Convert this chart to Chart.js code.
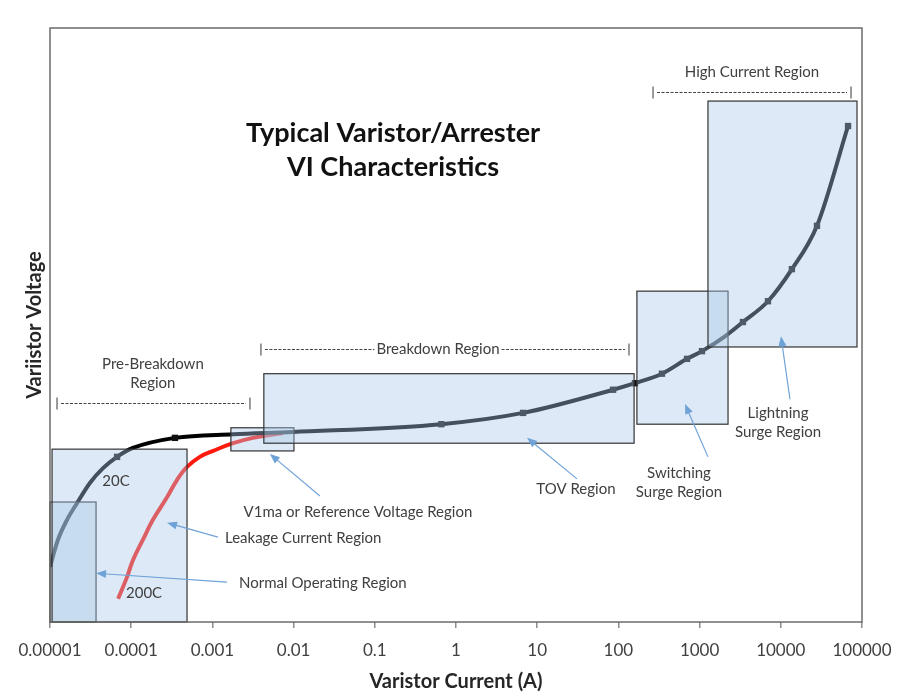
<!DOCTYPE html>
<html>
<head>
<meta charset="utf-8">
<script src="https://cdn.jsdelivr.net/npm/chart.js@4.4.1/dist/chart.umd.min.js"></script>
<style>
  html, body { margin: 0; padding: 0; background: #fff; }
  #wrap { width: 900px; height: 699px; }
</style>
</head>
<body>
<div id="wrap"><canvas id="myChart" width="900" height="699"></canvas></div>
<script>
// x axis: varistor current (A), log scale, one tick per decade
var tickValues = [1e-5, 1e-4, 1e-3, 1e-2, 1e-1, 1, 10, 100, 1000, 10000, 100000];
var tickLabels = ['0.00001', '0.0001', '0.001', '0.01', '0.1', '1', '10', '100', '1000', '10000', '100000'];

// 20C curve (relative voltage, 0..100 of plot height)
var curve20I = [1e-5, 1.25e-5, 1.62e-5, 2.15e-5, 3.1e-5, 4.5e-5, 6.7e-5, 1.05e-4, 3.46e-4, 1.8e-3, 9.8e-3,
                0.66, 6.7, 86, 160, 344, 700, 1070, 2055, 3420, 6950, 13700, 27900, 67300];
var curve20V = [9.3, 13.8, 17.2, 20.0, 23.4, 25.9, 27.8, 29.3, 31.0, 31.6, 32.0,
                33.3, 35.2, 39.1, 40.2, 41.8, 44.3, 45.6, 48.1, 50.5, 54.0, 59.4, 66.7, 83.5];
var marked20 = [0, 0, 0, 0, 0, 0, 1, 0, 1, 0, 0,
                1, 1, 1, 1, 1, 1, 1, 0, 1, 1, 1, 1, 1];

// 200C curve
var curve200I = [6.9e-5, 8.9e-5, 1.05e-4, 1.4e-4, 1.85e-4, 2.76e-4, 3.66e-4, 4.87e-4, 7.0e-4, 1.02e-3, 1.8e-3, 3.16e-3, 7.4e-3];
var curve200V = [3.9, 7.6, 10.4, 13.9, 17.2, 21.0, 23.9, 26.1, 27.8, 28.8, 30.1, 31.0, 31.8];

// operating regions (boxes)
var regionNames = ['Normal Operating', 'Leakage Current', 'V1ma', 'TOV', 'Switching Surge', 'Lightning Surge'];
var regionIFrom = [1e-5, 1.06e-5, 1.69e-3, 4.3e-3, 169, 1268];
var regionITo   = [3.69e-5, 4.87e-4, 0.0101, 156, 2240, 86800];
var regionVFrom = [0, 0, 28.8, 30.1, 33.3, 46.3];
var regionVTo   = [20.2, 29.1, 32.7, 41.8, 55.7, 87.7];

var FONT = 'Lato, "Open Sans", sans-serif';

function pts(xs, ys) {
    return xs.map(function (x, i) { return {x: x, y: ys[i]}; });
}

// annotation layout (in chart units)
var notes = [
    {lines: ['Typical Varistor/Arrester', 'VI Characteristics'], x: 0.168, y: 82.2, bold: true, size: 27, gap: 34, color: '#111'},
    {lines: ['High Current Region'], x: 4415, y: 92.6},
    {lines: ['Pre-Breakdown', 'Region'], x: 1.85e-4, y: 43.4},
    {lines: ['20C'], x: 6.5e-5, y: 23.7},
    {lines: ['200C'], x: 1.44e-4, y: 4.9},
    {lines: ['Leakage Current Region'], x: 1.43e-3, y: 14.1, align: 'left'},
    {lines: ['Normal Operating Region'], x: 2.13e-3, y: 6.6, align: 'left'},
    {lines: ['V1ma or Reference Voltage Region'], x: 0.062, y: 18.5},
    {lines: ['TOV Region'], x: 30, y: 22.4},
    {lines: ['Switching', 'Surge Region'], x: 557, y: 25.1},
    {lines: ['Lightning', 'Surge Region'], x: 9250, y: 35.2}
];
var arrows = [
    [1.17e-3, 14.3, 2.76e-4, 16.7],
    [1.51e-3, 6.7, 3.69e-5, 8.2],
    [0.0211, 21.2, 5.1e-3, 28.3],
    [30.9, 24.1, 7.5, 31.0],
    [1268, 27.8, 661, 36.7],
    [12970, 37.5, 10050, 48.1]
];
var spans = [
    {from: 1.22e-5, to: 2.9e-3, y: 36.9},
    {from: 3.96e-3, to: 135, y: 46.0, text: 'Breakdown Region', textAt: 0.6},
    {from: 267, to: 73300, y: 89.2}
];

var overlay = {
    id: 'overlay',
    afterDatasetsDraw: function (chart) {
        var ctx = chart.ctx, a = chart.chartArea;
        var xs = chart.scales.x, ys = chart.scales.y;
        var X = function (v) { return xs.getPixelForValue(v); };
        var Y = function (v) { return ys.getPixelForValue(v); };
        ctx.save();

        // translucent region boxes on top of the curves
        for (var i = 0; i < regionNames.length; i++) {
            var x0 = X(regionIFrom[i]), x1 = X(regionITo[i]);
            var y0 = Y(regionVTo[i]), y1 = Y(regionVFrom[i]);
            ctx.fillStyle = 'rgba(170,200,232,0.4)';
            ctx.fillRect(x0, y0, x1 - x0, y1 - y0);
            ctx.strokeStyle = '#333';
            ctx.lineWidth = 1.2;
            ctx.strokeRect(x0, y0, x1 - x0, y1 - y0);
        }

        // plot frame
        ctx.strokeStyle = '#6b6b6b';
        ctx.lineWidth = 1.5;
        ctx.strokeRect(a.left, a.top, a.right - a.left, a.bottom - a.top);

        // dimension lines
        ctx.font = '15px ' + FONT;
        spans.forEach(function (s) {
            var x0 = X(s.from), x1 = X(s.to), y = Math.round(Y(s.y)) + 0.5;
            ctx.strokeStyle = '#7a7a7a';
            ctx.lineWidth = 1.5;
            ctx.setLineDash([]);
            ctx.beginPath();
            ctx.moveTo(x0, y - 6); ctx.lineTo(x0, y + 6);
            ctx.moveTo(x1, y - 6); ctx.lineTo(x1, y + 6);
            ctx.stroke();
            ctx.strokeStyle = '#444';
            ctx.lineWidth = 1;
            ctx.setLineDash([3, 1.5]);
            ctx.beginPath();
            if (s.text) {
                var cx = X(s.textAt), w = ctx.measureText(s.text).width / 2 + 2;
                ctx.moveTo(x0 + 4, y); ctx.lineTo(cx - w, y);
                ctx.moveTo(cx + w, y); ctx.lineTo(x1 - 4, y);
                ctx.stroke();
                ctx.fillStyle = '#404040';
                ctx.textAlign = 'center';
                ctx.textBaseline = 'middle';
                ctx.fillText(s.text, cx, y);
            } else {
                ctx.moveTo(x0 + 4, y); ctx.lineTo(x1 - 4, y);
                ctx.stroke();
            }
        });
        ctx.setLineDash([]);

        // arrows
        ctx.strokeStyle = '#6fa3d8';
        ctx.fillStyle = '#6fa3d8';
        ctx.lineWidth = 1.2;
        arrows.forEach(function (r) {
            var sx = X(r[0]), sy = Y(r[1]), ex = X(r[2]), ey = Y(r[3]);
            var ang = Math.atan2(ey - sy, ex - sx);
            ctx.beginPath();
            ctx.moveTo(sx, sy);
            ctx.lineTo(ex - 7 * Math.cos(ang), ey - 7 * Math.sin(ang));
            ctx.stroke();
            ctx.beginPath();
            ctx.moveTo(ex, ey);
            ctx.lineTo(ex - 10 * Math.cos(ang) + 4 * Math.sin(ang), ey - 10 * Math.sin(ang) - 4 * Math.cos(ang));
            ctx.lineTo(ex - 10 * Math.cos(ang) - 4 * Math.sin(ang), ey - 10 * Math.sin(ang) + 4 * Math.cos(ang));
            ctx.closePath();
            ctx.fill();
        });

        // texts
        notes.forEach(function (n) {
            ctx.font = (n.bold ? 'bold ' : '') + (n.size || 15) + 'px ' + FONT;
            ctx.fillStyle = n.color || '#404040';
            ctx.textAlign = n.align || 'center';
            ctx.textBaseline = 'middle';
            n.lines.forEach(function (t, k) {
                ctx.fillText(t, X(n.x), Y(n.y) + k * (n.gap || 19));
            });
        });

        // y axis title
        ctx.font = 'bold 20px ' + FONT;
        ctx.fillStyle = '#262626';
        ctx.textAlign = 'center';
        ctx.textBaseline = 'middle';
        ctx.translate(35, (a.top + a.bottom) / 2);
        ctx.rotate(-Math.PI / 2);
        ctx.fillText('Variistor Voltage', 0, 0);
        ctx.restore();
    }
};

var config = {
    type: 'scatter',
    data: {
        datasets: [
            {
                label: '20C',
                data: pts(curve20I, curve20V),
                showLine: true,
                borderColor: '#000',
                borderWidth: 4,
                cubicInterpolationMode: 'monotone',
                pointStyle: 'rect',
                pointRadius: marked20.map(function (m) { return m ? 4.5 : 0; }),
                pointBackgroundColor: '#111',
                pointBorderColor: '#111',
                pointBorderWidth: 0
            },
            {
                label: '200C',
                data: pts(curve200I, curve200V),
                showLine: true,
                borderColor: '#ff1a10',
                borderWidth: 4,
                tension: 0.4,
                pointRadius: 0
            }
        ]
    },
    options: {
        responsive: false,
        animation: false,
        devicePixelRatio: 1,
        layout: { padding: { left: 50, right: 38, top: 28, bottom: 0 } },
        plugins: {
            legend: { display: false },
            tooltip: { enabled: false }
        },
        scales: {
            x: {
                type: 'logarithmic',
                position: 'bottom',
                min: 1e-5,
                max: 1e5,
                afterBuildTicks: function (axis) {
                    axis.ticks = tickValues.map(function (v) { return {value: v}; });
                },
                afterFit: function (axis) {
                    axis.height = 77;
                    axis.paddingLeft = 0;
                    axis.paddingRight = 0;
                },
                ticks: {
                    autoSkip: false,
                    maxRotation: 0,
                    padding: 12,
                    color: '#404040',
                    font: { family: FONT, size: 17 },
                    callback: function (value, index) { return tickLabels[index]; }
                },
                grid: { display: true, drawOnChartArea: false, drawTicks: true, tickLength: 6, color: '#8c8c8c', lineWidth: 1.5 },
                border: { display: false },
                title: {
                    display: true,
                    text: 'Varistor Current (A)',
                    color: '#262626',
                    font: { family: FONT, size: 20, weight: 'bold' },
                    padding: { top: 4, bottom: 5 }
                }
            },
            y: {
                type: 'linear',
                min: 0,
                max: 100,
                display: false
            }
        }
    },
    plugins: [overlay]
};

var myChart = new Chart(document.getElementById('myChart'), config);
</script>
</body>
</html>
